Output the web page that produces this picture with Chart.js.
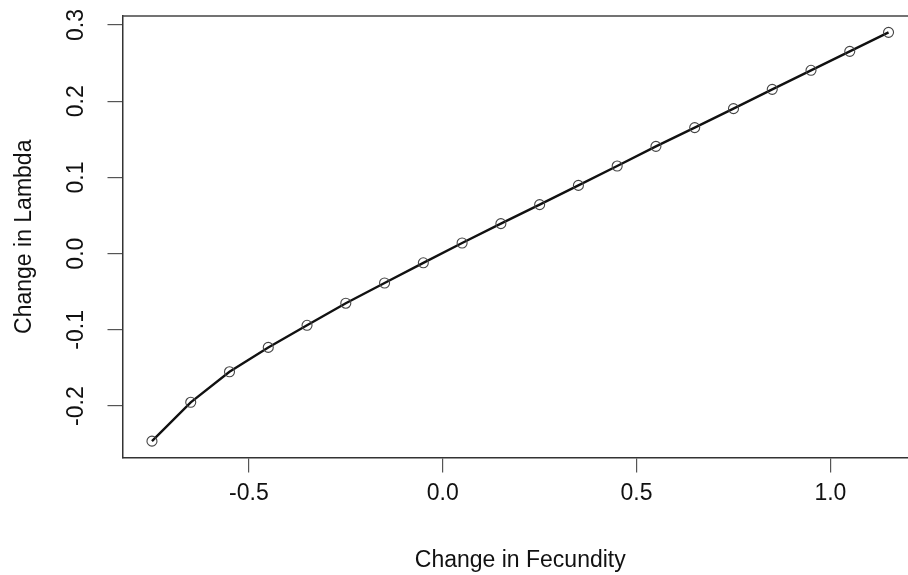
<!DOCTYPE html>
<html>
<head>
<meta charset="utf-8">
<script src="https://cdn.jsdelivr.net/npm/chart.js@4/dist/chart.umd.min.js"></script>
<style>
html,body{margin:0;padding:0;background:#fff;overflow:hidden;}
#wrap{width:908px;height:575px;overflow:hidden;position:relative;}
#c{position:absolute;left:0;top:0;}
</style>
</head>
<body>
<div id="wrap"><canvas id="c" width="930" height="575"></canvas></div>
<script>
const fecundityChange = [-0.75,-0.65,-0.55,-0.45,-0.35,-0.25,-0.15,-0.05,0.05,0.15,0.25,0.35,0.45,0.55,0.65,0.75,0.85,0.95,1.05,1.15];
const lambdaChange = [-0.246,-0.195,-0.155,-0.123,-0.094,-0.065,-0.0385,-0.012,0.014,0.0394,0.0643,0.0896,0.115,0.1408,0.1654,0.1903,0.2156,0.2406,0.2655,0.2904];
const xTicks = [-0.5, 0.0, 0.5, 1.0];
const yTicks = [-0.2, -0.1, 0.0, 0.1, 0.2, 0.3];
const xTitle = 'Change in Fecundity';
const yTitle = 'Change in Lambda';

const FONT = "'Liberation Sans', Arial, Helvetica, sans-serif";
const xr = [Math.min(...fecundityChange), Math.max(...fecundityChange)];
const yr = [Math.min(...lambdaChange), Math.max(...lambdaChange)];
const xpad = (xr[1]-xr[0])*0.04, ypad = (yr[1]-yr[0])*0.04;

const boxPlugin = {
  id: 'box',
  afterDraw(chart) {
    const {ctx, chartArea: a} = chart;
    ctx.save();
    ctx.strokeStyle = '#444';
    ctx.lineWidth = 1.5;
    ctx.beginPath();
    ctx.moveTo(a.left, a.top); ctx.lineTo(a.right, a.top);
    ctx.stroke();
    ctx.restore();
  }
};

new Chart(document.getElementById('c'), {
  type: 'line',
  data: {
    datasets: [{
      data: fecundityChange.map((x, i) => ({x, y: lambdaChange[i]})),
      borderColor: '#111',
      borderWidth: 2.4,
      pointRadius: 5,
      pointBorderWidth: 1.1,
      pointBorderColor: '#444',
      pointBackgroundColor: 'rgba(0,0,0,0)',
      tension: 0,
      fill: false,
      clip: false
    }]
  },
  plugins: [boxPlugin],
  options: {
    responsive: false,
    animation: false,
    events: [],
    layout: {autoPadding: false, padding: {top: 16, right: 12, left: 0, bottom: 0}},
    plugins: {legend: {display: false}, tooltip: {enabled: false}},
    scales: {
      x: {
        type: 'linear',
        min: xr[0]-xpad, max: xr[1]+xpad,
        afterBuildTicks: s => { s.ticks = xTicks.map(v => ({value: v})); },
        afterFit: s => { s.height = 117.5; s.paddingLeft = 0; s.paddingRight = 0; },
        border: {display: true, color: '#333', width: 1.5},
        grid: {drawOnChartArea: false, drawTicks: true, tickLength: 15, color: '#555', lineWidth: 1.2},
        ticks: {color: '#111', font: {family: FONT, size: 23}, padding: 7, maxRotation: 0,
                callback: v => Number(v).toFixed(1)},
        title: {display: true, text: xTitle, color: '#111', font: {family: FONT, size: 23}, padding: {top: 0, bottom: 1}}
      },
      y: {
        type: 'linear',
        min: yr[0]-ypad, max: yr[1]+ypad,
        afterBuildTicks: s => { s.ticks = yTicks.map(v => ({value: v})); },
        afterFit: s => { s.width = 122.5; s.paddingTop = 0; s.paddingBottom = 0; },
        border: {display: true, color: '#333', width: 1.5},
        grid: {drawOnChartArea: false, drawTicks: true, tickLength: 15, color: '#555', lineWidth: 1.2},
        ticks: {color: '#111', font: {family: FONT, size: 23}, padding: 11, minRotation: 90, maxRotation: 90,
                crossAlign: 'center', callback: v => Number(v).toFixed(1)},
        title: {display: true, text: yTitle, color: '#111', font: {family: FONT, size: 23}, padding: {top: 11, bottom: 0}}
      }
    }
  }
});
</script>
</body>
</html>
